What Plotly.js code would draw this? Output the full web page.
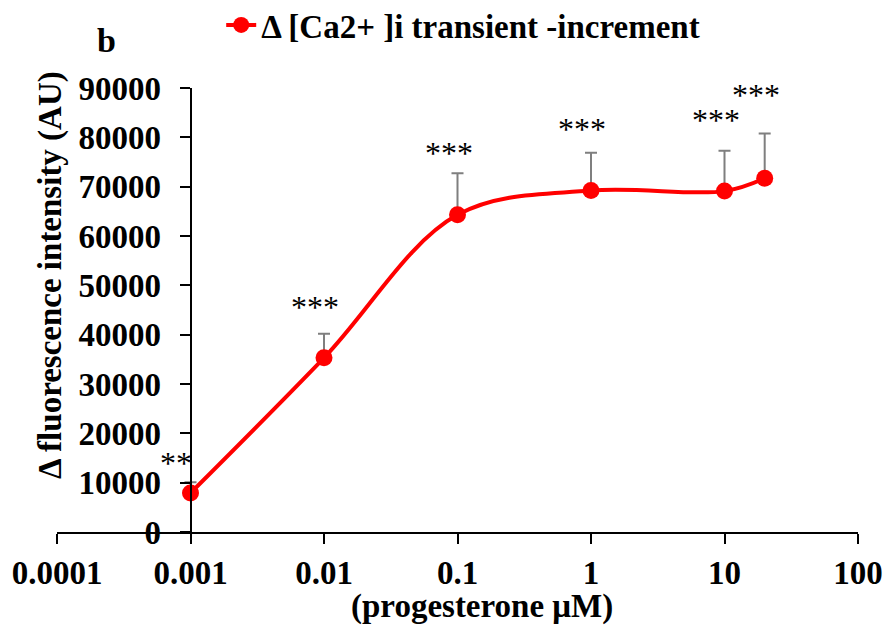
<!DOCTYPE html>
<html>
<head>
<meta charset="utf-8">
<script src="https://cdn.plot.ly/plotly-3.0.1.min.js"></script>
<style>html,body{margin:0;padding:0;background:#fff;}#chart{width:891px;height:631px;}</style>
</head>
<body>
<div id="chart"></div>
<script>
const doses = [0.001, 0.01, 0.1, 1, 10, 20];
const increment = [7900, 35300, 64300, 69200, 69100, 71700];
const errUp = [2200, 4900, 8400, 7700, 8200, 9100];
const sigLabels = ['**', '***', '***', '***', '***', '***'];
const sigY = [14000, 45600, 76900, 81700, 83500, 88600];
const xTickVals = [0.0001, 0.001, 0.01, 0.1, 1, 10, 100];
const xTickText = ['0.0001', '0.001', '0.01', '0.1', '1', '10', '100'];
const yTickVals = [0, 10000, 20000, 30000, 40000, 50000, 60000, 70000, 80000, 90000];
const yTickText = ['0', '10000', '20000', '30000', '40000', '50000', '60000', '70000', '80000', '90000'];
const xTitle = '(progesterone μM)';
const yTitle = 'Δ fluorescence intensity (AU)';

const serif = '"Liberation Serif", "Times New Roman", serif';

const trace = {
  x: doses,
  y: increment,
  type: 'scatter',
  mode: 'lines+markers',
  name: 'Δ [Ca2+ ]i transient -increment',
  line: {color: '#ff0000', width: 4, shape: 'spline', smoothing: 1},
  marker: {color: '#ff0000', size: 17},
  error_y: {type: 'data', symmetric: false, array: errUp, arrayminus: doses.map(() => 0),
            color: '#7f7f7f', thickness: 2, width: 6}
};

const annotations = doses.map((d, i) => ({
  x: Math.log10(d), y: sigY[i], xref: 'x', yref: 'y',
  text: sigLabels[i], showarrow: false, xshift: i === 0 ? -15 : -9,
  font: {family: serif, size: 32, color: '#000'}
}));
annotations.push({
  x: (106 - 57) / 801, y: (532 - 40) / 444, xref: 'paper', yref: 'paper',
  xanchor: 'center', yanchor: 'middle',
  text: '<b>b</b>', showarrow: false,
  font: {family: serif, size: 34, color: '#000'}
});
annotations.push({
  x: (50 - 57) / 801, y: (532 - 275) / 444, xref: 'paper', yref: 'paper',
  xanchor: 'center', yanchor: 'middle', textangle: -90,
  text: '<b>' + yTitle + '</b>', showarrow: false,
  font: {family: serif, size: 33, color: '#000'}
});
annotations.push({
  x: (482 - 57) / 801, y: (532 - 606) / 444, xref: 'paper', yref: 'paper',
  xanchor: 'center', yanchor: 'middle',
  text: '<b>' + xTitle + '</b>', showarrow: false,
  font: {family: serif, size: 33, color: '#000'}
});

const layout = {
  width: 891, height: 631,
  margin: {l: 57, r: 33, t: 88, b: 99, autoexpand: false},
  paper_bgcolor: '#fff', plot_bgcolor: '#fff',
  font: {family: serif, color: '#000'},
  showlegend: true,
  legend: {orientation: 'h', x: 0.205, y: (532 - 25) / 444, xanchor: 'left', yanchor: 'middle',
           font: {family: serif, size: 33, color: '#000', weight: 'bold'}, bgcolor: 'rgba(0,0,0,0)'},
  xaxis: {
    type: 'log', range: [-4, 2], tickvals: xTickVals, ticktext: xTickText,
    showgrid: false, zeroline: false, showline: true, linecolor: '#000', linewidth: 2,
    ticks: 'outside', ticklen: 10, tickwidth: 2, tickcolor: '#000',
    tickfont: {family: serif, size: 33, weight: 'bold', color: '#000'}
  },
  yaxis: {
    range: [0, 90000], tickvals: yTickVals, ticktext: yTickText, anchor: 'free', position: 1 / 6,
    showgrid: false, zeroline: false, showline: true, linecolor: '#000', linewidth: 2,
    ticks: 'outside', ticklen: 10, tickwidth: 2, tickcolor: '#000', ticklabelstandoff: 12,
    tickfont: {family: serif, size: 33, weight: 'bold', color: '#000'}
  },
  annotations: annotations
};

Plotly.newPlot('chart', [trace], layout, {displayModeBar: false, staticPlot: true});
</script>
</body>
</html>
